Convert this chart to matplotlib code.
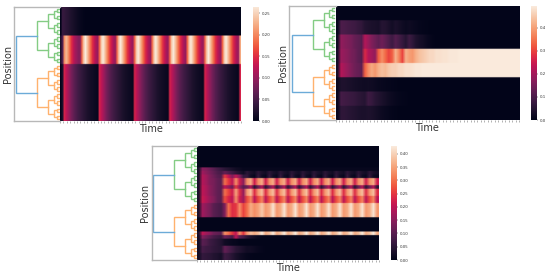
import numpy as np
import seaborn as sns
from matplotlib import pyplot as plt

W, H = 550, 274

# ---- panel 1 (103 time steps) ----
p1_top = [0, .04, .036, .032, .028, .024, .02, .017, .014, .011, .008, .006, .004, .002] + [0.001] * 89
p1_mid = [.02, .06,
          .20, .23, .21, .18, .15, .13, .11, .10, .09, .09,
          .18, .24, .265, .24, .21, .18, .15, .13, .11, .10,
          .18, .24, .265, .24, .21, .18, .15, .13, .11, .10,
          .18, .24, .265, .24, .21, .18, .15, .13, .11, .10,
          .18, .24, .265, .24, .21, .18, .15, .13, .11, .10,
          .18, .24, .265, .24, .21, .18, .15, .13, .11, .10,
          .18, .24, .265, .24, .21, .18, .15, .13, .11, .10,
          .18, .24, .265, .24, .21, .18, .15, .13, .11, .10,
          .18, .24, .265, .24, .21, .18, .15, .13, .11, .10,
          .18, .24, .265, .24, .21, .18, .15, .13, .11, .10,
          .22]
p1_low = [.0, .02,
          .14, .125, .11, .095, .08, .07, .06, .052, .045, .04, .035, .03, .025, .02, .017, .014, .012, .01, .008, .006,
          .14, .125, .11, .095, .08, .07, .06, .052, .045, .04, .035, .03, .025, .02, .017, .014, .012, .01, .008, .006,
          .14, .125, .11, .095, .08, .07, .06, .052, .045, .04, .035, .03, .025, .02, .017, .014, .012, .01, .008, .006,
          .14, .125, .11, .095, .08, .07, .06, .052, .045, .04, .035, .03, .025, .02, .017, .014, .012, .01, .008, .006,
          .14, .125, .11, .095, .08, .07, .06, .052, .045, .04, .035, .03, .025, .02, .017, .014, .012, .01, .008, .006,
          .14]
p1_rows = [8, 8, 16]
p1_ticks = [0, .05, .10, .15, .20, .25]

# ---- panel 2 (54 time steps) ----
p2_a = [0.003] * 54
p2_b = [.01, .10, .095, .09, .085, .08, .07, .065, .045, .04, .036, .033, .03, .05, .045, .035, .025, .035, .028, .02,
        .014, .018, .014, .01, .007, .005, .002] + [0.001] * 27
p2_c = [.02, .18, .17, .16, .15, .13, .12, .11, .22, .19, .16, .14, .12, .14, .12, .10, .08, .11, .09, .07,
        .05, .08, .06, .04, .03, .025, .015, .008, .002] + [0.001] * 25
p2_d = [.03, .19, .18, .17, .15, .14, .12, .11, .27, .22, .20, .18, .33, .38, .34, .30, .33, .42, .37, .30,
        .42, .40, .39, .42, .44, .45, .46, .47, .47, .48, .48, .485, .485, .49, .49, .49] + [.495] * 18
p2_e = [.03, .22, .20, .18, .16, .14, .13, .12, .33, .38, .41, .39, .42, .44, .43, .45, .46, .46, .47, .47,
        .48, .48, .485, .49, .49] + [.495] * 29
p2_f = [.01, .04, .04, .036, .032, .028, .025, .022, .02, .022, .02, .016, .012, .01, .008, .006, .004, .002] + [0.001] * 36
p2_g = [.01, .09, .085, .08, .075, .07, .06, .055, .05, .08, .07, .055, .045, .035, .028, .02, .015, .01, .006, .004,
        .002] + [0.001] * 33
p2_h = [.01, .06, .06, .055, .05, .045, .04, .035, .035, .04, .035, .03, .022, .016, .012, .008, .005, .003] + [0.001] * 36
p2_rows = [4, 4, 4, 4, 4, 4, 4, 4]
p2_ticks = [0, .1, .2, .3, .4]

# ---- panel 3 (49 time steps) ----
p3_off = [0.002] * 49
p3_r6 = [.03, .15, .14, .12, .10, .08, .065, .05, .04, .03, .02, .015] + [0.008] * 37
p3_r7 = [.03, .17, .15, .13, .11, .09, .08, .11, .09, .07, .05, .035, .02, .05, .03] + [.02, .05, .03] * 11 + [.02]
p3_r8 = [.03, .19, .17, .14, .12, .10, .09, .25, .20, .14, .20, .14, .06, .06, .02] + [.01, .06, .02] * 11 + [.01]
p3_r9 = [.03, .19, .17, .14, .13, .11, .10, .30, .25, .20, .33, .22, .15] + [.33, .36, .22] * 12
p3_r11 = [.03, .20, .18, .15, .13, .11, .10, .20, .16, .12, .25, .16, .10] + [.12, .19, .05] * 12
p3_r12 = [.03, .20, .18, .15, .13, .11, .10, .30, .26, .22, .35, .24, .16] + [.34, .38, .24] * 12
p3_r14 = [.03, .21, .19, .16, .14, .11, .10, .27, .23, .20, .33, .22, .17] + [.27, .32, .20] * 12
p3_r16 = [.03, .17, .15, .13, .10, .09, .08, .14, .30, .24, .25, .33, .26, .30, .36, .33, .35, .39, .34]
p3_r16 += [.36, .42, .34] * 10
p3_r24 = [.03, .20, .17, .15, .12, .11, .10, .33, .30, .25, .20, .33, .25, .34, .38, .36] + [.38, .43, .36] * 11
p3_r25 = [.02, .14, .12, .10, .08, .07, .06, .12, .10, .08, .20, .10, .08, .05, .03, .02, .01] + [0.004] * 32
p3_r26 = [.02, .10, .09, .07, .06, .05, .04, .02, .015, .01, .008] + [0.003] * 38
p3_r28 = [.02, .08, .07, .065, .055, .05, .045, .11, .09, .07, .05, .04, .03, .02, .02, .015, .01, .006] + [0.002] * 31
p3_r30 = [.02, .06, .055, .05, .04, .035, .025, .07, .06, .045, .03, .02, .012, .008, .004] + [0.002] * 34
p3_rows = [6, 1, 1, 1, 2, 1, 2, 2, 4, 4, 1, 1, 2, 2, 2]
p3_ticks = [0, .05, .10, .15, .20, .25, .30, .35, .40]

# merge distances of the dendrograms, root first
merge_heights = [44, 23, 12, 6.5, 3.5, 1.5]

cmap = sns.color_palette('rocket', as_cmap=True)
LEFT_COL, RIGHT_COL, ROOT_COL = '#84cc84', '#ffb26e', '#6cabd8'


def px_axes(fig, x0, y0, x1, y1):
    return fig.add_axes([x0 / W, 1 - y1 / H, (x1 - x0) / W, (y1 - y0) / H])


def draw_tree(ax, lo, hi, level, color):
    # balanced tree over the leaves lo..hi, returns centre of the node
    if hi - lo == 1:
        return lo + 0.5
    mid = (lo + hi) // 2
    h = merge_heights[level]
    next_h = merge_heights[level + 1] if level + 1 < len(merge_heights) else 0
    col = color
    if level == 0:
        col = ROOT_COL
    c1 = draw_tree(ax, lo, mid, level + 1, LEFT_COL if level == 0 else color)
    c2 = draw_tree(ax, mid, hi, level + 1, RIGHT_COL if level == 0 else color)
    ax.plot([next_h, h, h, next_h], [c1, c1, c2, c2], color=col, lw=1.0, solid_joinstyle='miter')
    return (c1 + c2) / 2


def panel(fig, box, data, vmax, cticks, fmt):
    dx0, hx0, hx1, y0, y1, cx0, cx1 = box
    ax = px_axes(fig, hx0, y0, hx1, y1)
    # smooth along time only, rows keep sharp edges
    ax.imshow(np.repeat(data, 12, axis=0), aspect='auto', cmap=cmap, vmin=0, vmax=vmax,
              interpolation='bilinear')
    ax.set_yticks([])
    ax.set_xticks(np.linspace(-.5, data.shape[1] - .5, 54))
    ax.set_xticklabels([])
    ax.tick_params(axis='x', length=1.5, width=.4, color='#777777', pad=0)
    for s in ax.spines.values():
        s.set_visible(False)
    ax.set_xlabel('Time', fontsize=7, color='#333333', labelpad=0.5)

    den = px_axes(fig, dx0, y0, hx0, y1)
    draw_tree(den, 0, 32, 0, LEFT_COL)
    den.set_xlim(hx0 - dx0, 0)
    den.set_ylim(32, 0)
    den.set_xticks([])
    den.set_yticks([])
    for name in ['left', 'top', 'bottom']:
        den.spines[name].set_color('#b8b8b8')
        den.spines[name].set_linewidth(1.0)
    den.spines['right'].set_visible(False)
    den.set_ylabel('Position', fontsize=7, color='#333333', labelpad=1)

    cax = px_axes(fig, cx0, y0, cx1, y1)
    cb_vals = np.linspace(0, vmax, 256)[::-1].reshape(-1, 1)
    cax.imshow(cb_vals, aspect='auto', cmap=cmap, vmin=0, vmax=vmax, extent=[0, 1, 0, vmax])
    cax.set_xticks([])
    cax.yaxis.tick_right()
    cax.set_yticks(cticks)
    cax.set_yticklabels([fmt % t for t in cticks], fontsize=2.8, color='#333333')
    cax.tick_params(axis='y', length=1, width=.3, pad=.8)
    for s in cax.spines.values():
        s.set_visible(False)


def stack(rows, bands):
    return np.array([b for n, b in zip(rows, bands) for _ in range(n)])


p1_data = stack(p1_rows, [p1_top, p1_mid, p1_low])
p2_data = stack(p2_rows, [p2_a, p2_b, p2_c, p2_d, p2_e, p2_f, p2_g, p2_h])
p3_data = stack(p3_rows, [p3_off, p3_r6, p3_r7, p3_r8, p3_r9, p3_r11, p3_r12, p3_r14, p3_r16,
                          p3_off, p3_r24, p3_r25, p3_r26, p3_r28, p3_r30])

fig = plt.figure(figsize=(W / 100, H / 100), dpi=100)
panel(fig, (14, 60, 241, 7, 121, 253, 259), p1_data, .265, p1_ticks, '%.2f')
panel(fig, (289, 335.5, 519, 6, 120, 531, 537), p2_data, .495, p2_ticks, '%.1f')
panel(fig, (151.5, 197, 379, 146, 260, 391, 397), p3_data, .43, p3_ticks, '%.2f')

plt.savefig('out.png', dpi=100)
